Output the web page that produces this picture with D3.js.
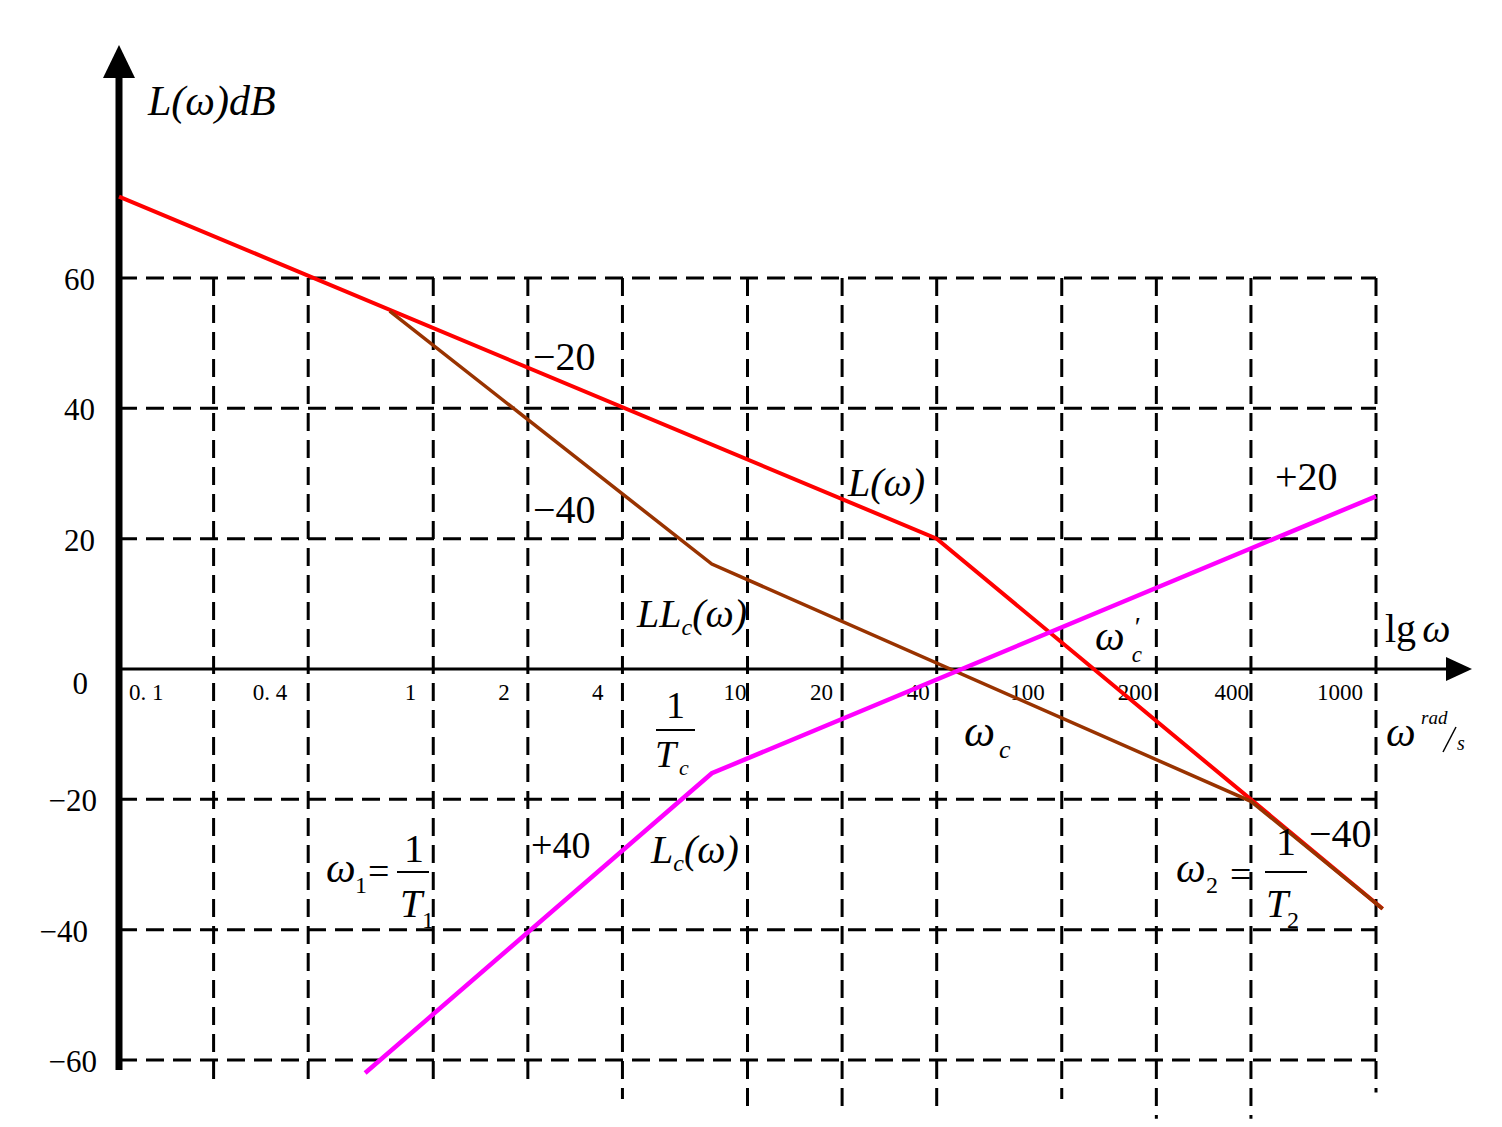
<!DOCTYPE html>
<html>
<head>
<meta charset="utf-8">
<script src="https://cdn.jsdelivr.net/npm/d3@7"></script>
<style>
  html, body { margin: 0; padding: 0; background: #fff; }
  svg { display: block; }
  text { font-family: "Liberation Serif", "Times New Roman", serif; fill: #000; }
  .it { font-style: italic; }
</style>
</head>
<body>
<svg id="chart" width="1502" height="1127"></svg>
<script>
// ---------- data ----------
const gridFreqs = [0.2, 0.4, 1, 2, 4, 10, 20, 40, 100, 200, 400, 1000];
const gridBottoms = [-63, -63, -63, -63, -66, -68, -68, -68, -66, -69, -69, -65]; // dB where each vertical gridline ends
const freqLabelValues = [0.1, 0.4, 1, 2, 4, 10, 20, 40, 100, 200, 400, 1000];
const freqLabelTexts = ["0. 1", "0. 4", "1", "2", "4", "10", "20", "40", "100", "200", "400", "1000"];
const dbTicks = [-60, -40, -20, 0, 20, 40, 60];
const dbTickTexts = ["\u221260", "\u221240", "\u221220", "0", "20", "40", "60"];

// asymptotic curves: [omega, dB]
const L = [[0.1, 72.5], [40, 20], [1050, -36.8]];            // original L(ω)
const LLc = [[0.727, 54.9], [7.7, 16.1], [400, -20.3], [1050, -36.8]]; // corrected
const Lc = [[0.607, -62], [7.7, -16], [1000, 26.5]];          // compensator

// ---------- layout ----------
const svg = d3.select("#chart");
const x = d3.scaleLog().domain([0.1, 1000]).range([119, 1376]);
const y = d3.scaleLinear().domain([-60, 60]).range([1060, 278]);

// label offsets (layout only)
const labelDx = [10, -21, -17, -18, -19, -1, -9, -7, -17, -4, -2, -13];
const dbLabelX = [97, 88, 97, 88, 95, 95, 95];

// ---------- grid ----------
const grid = svg.append("g").attr("stroke", "#000").attr("stroke-width", 3)
  .attr("stroke-dasharray", "18,9").attr("fill", "none");
dbTicks.filter(d => d !== 0).forEach(d => {
  grid.append("line").attr("x1", x(0.1)).attr("x2", x(1000))
    .attr("y1", y(d)).attr("y2", y(d));
});
gridFreqs.forEach((f, i) => {
  grid.append("line").attr("x1", x(f)).attr("x2", x(f))
    .attr("y1", y(60)).attr("y2", y(gridBottoms[i]));
});

// ---------- axes ----------
const ax = svg.append("g");
ax.append("line").attr("x1", x(0.1)).attr("x2", 1450).attr("y1", y(0)).attr("y2", y(0))
  .attr("stroke", "#000").attr("stroke-width", 3);
ax.append("path").attr("d", `M1472,${y(0)} L1446,${y(0) - 12} L1446,${y(0) + 12} Z`).attr("fill", "#000");
ax.append("line").attr("x1", x(0.1)).attr("x2", x(0.1)).attr("y1", 1070).attr("y2", 75)
  .attr("stroke", "#000").attr("stroke-width", 7);
ax.append("path").attr("d", `M${x(0.1)},45 L${x(0.1) - 16},78 L${x(0.1) + 16},78 Z`).attr("fill", "#000");

// tick labels
svg.append("g").selectAll("text").data(freqLabelValues).join("text")
  .attr("x", (d, i) => x(d) + labelDx[i])
  .attr("y", 700)
  .attr("text-anchor", (d, i) => i === 0 ? "start" : "end")
  .attr("font-size", 23)
  .text((d, i) => freqLabelTexts[i]);

svg.append("g").selectAll("text").data(dbTicks).join("text")
  .attr("x", (d, i) => dbLabelX[i])
  .attr("y", d => d === 0 ? y(0) + 25 : y(d) + 12)
  .attr("text-anchor", "end")
  .attr("font-size", 31)
  .text((d, i) => dbTickTexts[i]);

// ---------- curves ----------
const line = d3.line().x(d => x(d[0])).y(d => y(d[1]));
svg.append("path").datum(L).attr("d", line).attr("fill", "none").attr("stroke", "#ff0000").attr("stroke-width", 4);
svg.append("path").datum(LLc).attr("d", line).attr("fill", "none").attr("stroke", "#993300").attr("stroke-width", 3.5);
svg.append("path").datum(Lc).attr("d", line).attr("fill", "none").attr("stroke", "#ff00ff").attr("stroke-width", 4.5);

// ---------- annotations ----------
function txt(xp, yp, size, str, italic) {
  return svg.append("text").attr("x", xp).attr("y", yp).attr("font-size", size)
    .attr("class", italic ? "it" : null).text(str);
}
function fracLine(x1, x2, yp) {
  svg.append("line").attr("x1", x1).attr("x2", x2).attr("y1", yp).attr("y2", yp)
    .attr("stroke", "#000").attr("stroke-width", 2);
}

// axis title
txt(148, 115, 42, "L(\u03C9)dB", true);

// slopes
txt(533, 370, 40, "\u221220");
txt(533, 523, 40, "\u221240");
txt(1275, 490, 40, "+20");
txt(531, 858, 38, "+40");
txt(1309, 847, 40, "\u221240");

// curve labels
txt(848, 496, 40, "L(\u03C9)", true);
{
  const t = svg.append("text").attr("x", 637).attr("y", 627).attr("font-size", 40).attr("class", "it");
  t.append("tspan").text("LL");
  t.append("tspan").attr("font-size", 24).attr("dy", 8).text("c");
  t.append("tspan").attr("dy", -8).text("(\u03C9)");
}
{
  const t = svg.append("text").attr("x", 651).attr("y", 863).attr("font-size", 40).attr("class", "it");
  t.append("tspan").text("L");
  t.append("tspan").attr("font-size", 24).attr("dy", 8).text("c");
  t.append("tspan").attr("dy", -8).text("(\u03C9)");
}

// lg ω
{
  const t = svg.append("text").attr("x", 1385).attr("y", 642).attr("font-size", 40);
  t.append("tspan").text("lg");
  t.append("tspan").attr("class", "it").attr("dx", 6).text("\u03C9");
}
// ω'c  (prime above, subscript c below)
{
  const t = svg.append("text").attr("x", 1095).attr("y", 650).attr("font-size", 42).attr("class", "it");
  t.append("tspan").text("\u03C9");
  t.append("tspan").attr("font-size", 28).attr("dx", 10).attr("dy", -14).attr("font-style", "normal").text("\u2032");
  t.append("tspan").attr("font-size", 23).attr("dx", -9).attr("dy", 26).text("c");
}

// ωc
txt(964, 746, 44, "\u03C9", true);
txt(999, 758, 26, "c", true);

// ω rad/s
txt(1386, 746, 42, "\u03C9", true);
txt(1421, 724, 19, "rad", true);
svg.append("line").attr("x1", 1443).attr("y1", 752).attr("x2", 1456).attr("y2", 727)
  .attr("stroke", "#000").attr("stroke-width", 1.5);
txt(1457, 750, 20, "s", true);

// 1/Tc
txt(666, 718, 38, "1");
fracLine(656, 695, 730);
txt(655, 767, 38, "T", true);
txt(679, 775, 22, "c", true);

// ω1 = 1/T1
txt(326, 882, 42, "\u03C9", true);
txt(355, 893, 24, "1");
txt(368, 884, 38, "=");
txt(404, 862, 40, "1");
fracLine(397, 429, 872);
txt(400, 917, 40, "T", true);
txt(422, 928, 24, "1");

// ω2 = 1/T2
txt(1176, 882, 42, "\u03C9", true);
txt(1206, 893, 24, "2");
txt(1230, 887, 38, "=");
txt(1276, 855, 40, "1");
fracLine(1265, 1307, 872);
txt(1266, 917, 40, "T", true);
txt(1287, 928, 24, "2");
</script>
</body>
</html>
